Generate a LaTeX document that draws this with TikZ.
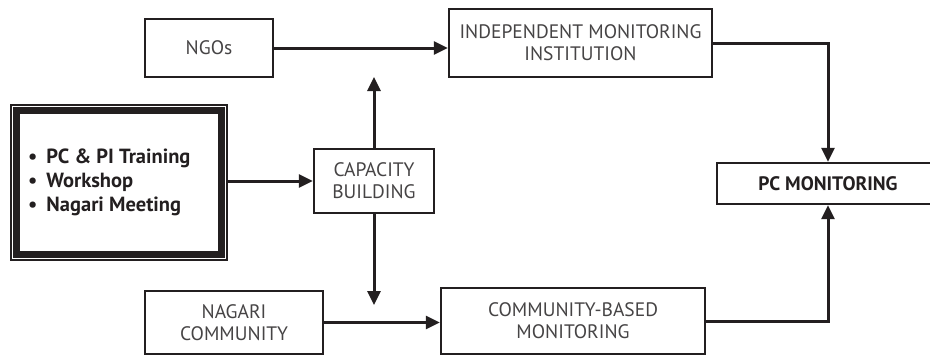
\documentclass[tikz,border=0pt]{standalone}
\usepackage{fontspec}
\setmainfont{PT Sans}
\usetikzlibrary{arrows.meta,calc}
\definecolor{ink}{RGB}{35,31,32}
\definecolor{txt}{RGB}{70,68,69}
\begin{document}
\begin{tikzpicture}[x=1pt,y=-1pt,
  box/.style={draw=ink,line width=2.4pt,fill=white,inner sep=0pt,
    text=txt,align=center,font=\fontsize{19.5}{22}\selectfont},
  boldbox/.style={box,text=ink,font=\bfseries\fontsize{19.5}{22}\selectfont},
  arr/.style={draw=ink,line width=3pt,-{Triangle[length=14pt,width=13pt]}},
  link/.style={draw=ink,line width=3pt}]
\useasboundingbox (0,0) rectangle (930,356);

% boxes
\node[box,minimum width=128pt,minimum height=58pt] (ngo) at (209,48) {NGOs};
\node[box,minimum width=263pt,minimum height=68pt] (imi) at (580.5,43)
  {INDEPENDENT MONITORING\\INSTITUTION};
\node[box,minimum width=120pt,minimum height=64pt] (cap) at (374,181)
  {CAPACITY\\BUILDING};
\node[box,minimum width=178pt,minimum height=63pt] (nag) at (234,322.5)
  {NAGARI\\COMMUNITY};
\node[box,minimum width=264pt,minimum height=66pt] (cbm) at (573,321)
  {COMMUNITY-BASED\\MONITORING};
\node[boldbox,minimum width=222pt,minimum height=41pt] (pcm) at (828,183.5)
  {PC MONITORING};

% framed activity box: thin outer line plus a heavy inner band
\node[draw=ink,line width=1.5pt,minimum width=216pt,minimum height=155pt,
  inner sep=0pt] (lft) at (119,182.5) {};
\draw[ink,line width=7pt]
  ([shift={(6.5,6.5)}]lft.north west) rectangle ([shift={(-6.5,-6.5)}]lft.south east);
\node[anchor=west,align=left,text=ink,inner sep=0pt,
  font=\bfseries\fontsize{20.5}{24}\selectfont] (lfttxt) at (28,182)
  {•\hspace{9pt}PC \& PI Training\\•\hspace{9pt}Workshop\\•\hspace{9pt}Nagari Meeting};

% free ends of the capacity-building arrows
\coordinate (capup) at (374,77);
\coordinate (capdown) at (374,305);

% connectors
\draw[arr] (ngo.east) -- (ngo.east -| imi.west);
\draw[arr] (lft.east |- cap.west) -- (cap.west);
\draw[arr] (cap.north) -- (capup);
\draw[arr] (cap.south) -- (capdown);
\draw[arr] (nag.east) -- (nag.east -| cbm.west);
\draw[arr] (imi.east) -- (pcm.north |- imi.east) -- (pcm.north);
\draw[arr] (cbm.east) -- (pcm.south |- cbm.east) -- (pcm.south);
\end{tikzpicture}
\end{document}
